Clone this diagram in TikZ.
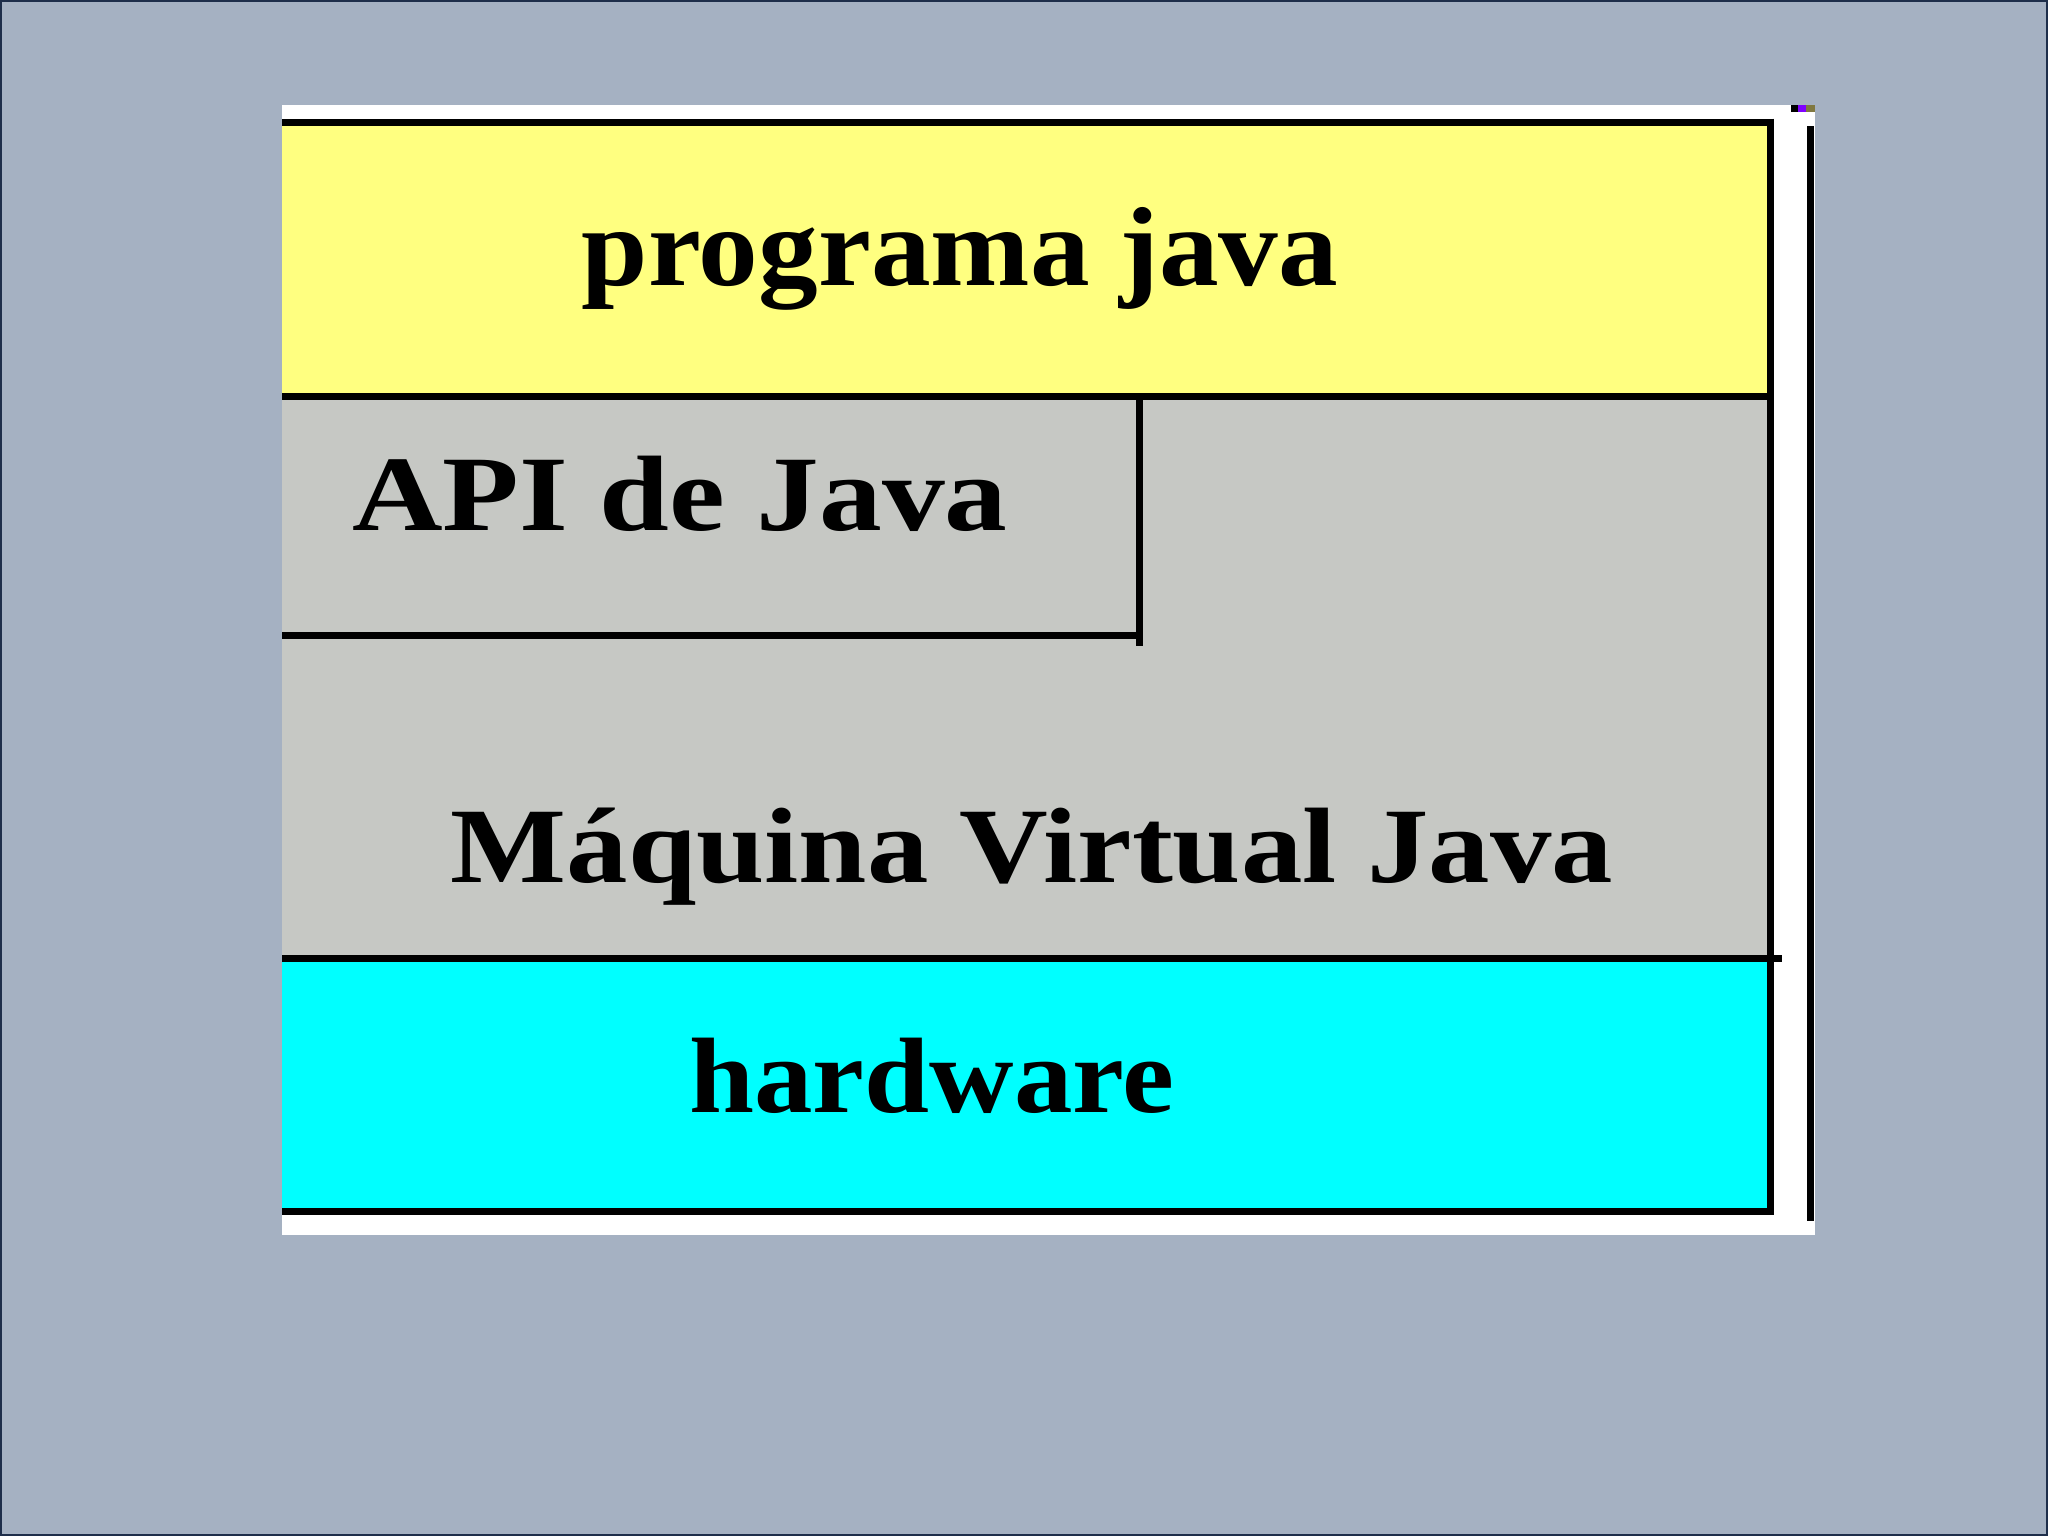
\documentclass[tikz,border=0pt]{standalone}
\usepackage{fontspec}
\newfontfamily\progfont{Liberation Serif}[FakeStretch=1.06]
\newfontfamily\apifont{Liberation Serif}[FakeStretch=1.17]
\newfontfamily\jvmfont{Liberation Serif}[FakeStretch=1.145]
\newfontfamily\hwfont{Liberation Serif}[FakeStretch=1.09]
\definecolor{bg}{HTML}{A5B1C2}
\definecolor{frame}{HTML}{1E2E4A}
\definecolor{ylw}{HTML}{FFFF80}
\definecolor{gry}{HTML}{C6C8C4}
\definecolor{cyn}{HTML}{00FFFF}
\definecolor{pur}{HTML}{7F00FF}
\definecolor{olv}{HTML}{807840}
\tikzset{
  rule/.style={draw=black,line width=0.07cm},
  label/.style={inner sep=0pt,anchor=base,text=black}
}
\begin{document}
\begin{tikzpicture}[x=0.01cm,y=-0.01cm]
\useasboundingbox (0,0) rectangle (2048,1536);
% background
\fill[bg] (0,0) rectangle (2048,1536);
\draw[frame,line width=0.02cm] (1,1) rectangle (2047,1535);
% white panel
\fill[white] (282,105) rectangle (1815,1235);
% fills
\fill[ylw] (282,122) rectangle (1770,396);
\fill[gry] (282,396) rectangle (1770,958);
\fill[cyn] (282,958) rectangle (1770,1211);
% small marks top right
\fill[black] (1791,105) rectangle (1798,112);
\fill[pur] (1798,105) rectangle (1806,112);
\fill[olv] (1806,105) rectangle (1815,112);
% rules
\draw[rule] (282,122) -- (1774,122);
\draw[rule] (1770,118.5) -- (1770,1214.5);
\draw[rule] (282,396.5) -- (1774,396.5);
\draw[rule] (282,958.5) -- (1782,958.5);
\draw[rule] (282,1211) -- (1774,1211);
\draw[rule] (1139.5,393) -- (1139.5,646);
\draw[rule] (282,635) -- (1143,635);
\draw[rule] (1810.5,126) -- (1810.5,1221);
% labels
\node[label] (prog) at (960,285) {\progfont\bfseries\fontsize{32}{38}\selectfont programa java};
\node[label] (api) at (680,530) {\apifont\bfseries\fontsize{30.5}{36}\selectfont API de Java};
\node[label] (jvm) at (1032,882) {\jvmfont\bfseries\fontsize{30.5}{36}\selectfont Máquina Virtual Java};
\node[label] (hw) at (932,1112) {\hwfont\bfseries\fontsize{30.5}{36}\selectfont hardware};
\end{tikzpicture}
\end{document}
